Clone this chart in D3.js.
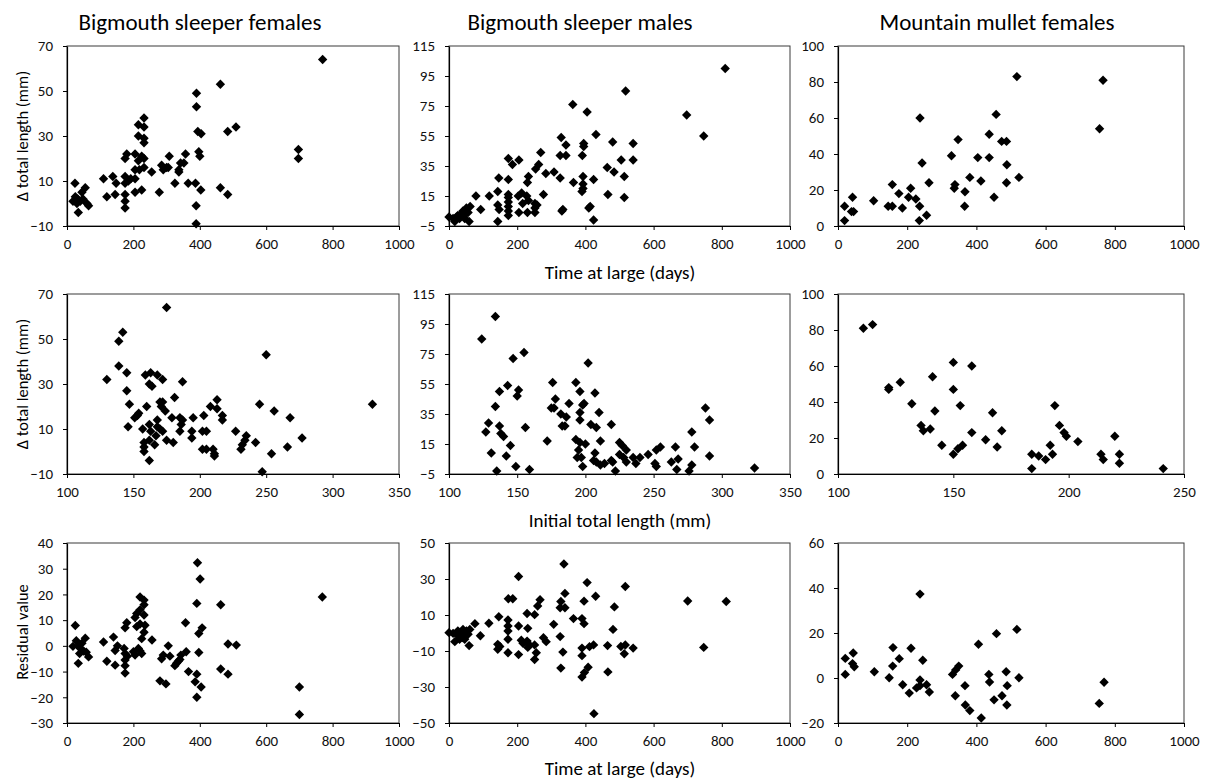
<!DOCTYPE html>
<html>
<head>
<meta charset="utf-8">
<script src="https://cdn.jsdelivr.net/npm/d3@7"></script>
<style>
  html, body { margin: 0; padding: 0; background: #fff; }
  svg { display: block; font-family: Carlito, Calibri, Lato, "Open Sans", sans-serif; }
</style>
</head>
<body>
<svg id="chart" width="1207" height="784"></svg>
<script>
// ---------- data ----------
const columnTitles = ["Bigmouth sleeper females", "Bigmouth sleeper males", "Mountain mullet females"];
const xLabelTime = "Time at large (days)";
const xLabelInit = "Initial total length (mm)";
const yLabelDelta = "\u0394 total length (mm)";
const yLabelResid = "Residual value";

const timeTicks = [0, 200, 400, 600, 800, 1000];
const initTicksBS = [100, 150, 200, 250, 300, 350];
const initTicksMM = [100, 150, 200, 250];
const deltaTicksBSF = [-10, 10, 30, 50, 70];
const deltaTicksBSM = [-5, 15, 35, 55, 75, 95, 115];
const deltaTicksMMF = [0, 20, 40, 60, 80, 100];
const residTicksBSF = [-30, -20, -10, 0, 10, 20, 30, 40];
const residTicksBSM = [-50, -30, -10, 10, 30, 50];
const residTicksMMF = [-20, 0, 20, 40, 60];

// Bigmouth sleeper females: [time at large, delta total length]
const bsfDeltaVsTime = [[770,64],[462,53],[390,49],[390,43],[394,32],[404,31],[484,32],[509,34],[397,23],[400,21],[697,24],[697,20],[387,9],[403,6],[462,7],[484,4],[389,-1],[389,-9],[365,9],[357,22],[352,18],[342,18],[337,15],[337,14],[325,9],[308,21],[300,16],[285,17],[290,15],[305,16],[278,5],[255,14],[232,38],[232,34],[215,35],[232,29],[232,27],[215,30],[232,20],[225,21],[215,19],[232,16],[218,15],[205,22],[205,15],[205,11],[205,5],[225,6],[180,22],[175,20],[175,12],[185,10],[175,9],[175,4],[175,1],[175,-2],[192,11],[138,12],[148,9],[145,4],[110,11],[120,3],[24,9],[18,1],[25,3],[32,2],[40,1],[34,-4],[45,5],[55,7],[48,2],[60,0],[65,-1],[30,0]];
// Bigmouth sleeper males: [time at large, delta total length]
const bsmDeltaVsTime = [[810,100],[518,85],[363,76],[405,71],[697,69],[747,55],[431,56],[329,54],[343,49],[395,50],[395,48],[391,42],[480,51],[540,50],[540,39],[505,39],[484,31],[464,34],[514,28],[514,14],[466,16],[424,26],[393,28],[393,23],[393,20],[390,18],[365,24],[343,42],[326,42],[326,27],[334,6],[331,5],[410,7],[414,8],[424,-1],[308,31],[284,30],[269,44],[263,36],[254,33],[277,16],[233,28],[230,24],[205,39],[186,36],[174,40],[174,26],[146,27],[143,18],[143,9],[147,6],[143,-2],[174,16],[174,14],[174,11],[174,8],[174,5],[174,2],[203,15],[213,17],[216,10],[205,4],[228,15],[233,12],[230,4],[252,10],[252,7],[252,4],[258,9],[118,15],[79,15],[93,6],[0,1],[12,0],[22,1],[17,-2],[31,0],[36,3],[41,5],[51,7],[56,4],[62,8],[46,0],[59,-2],[26,2],[44,2]];
// Mountain mullet females: [time at large, delta total length]
const mmfDeltaVsTime = [[517,83],[766,81],[756,54],[237,60],[457,62],[437,51],[473,47],[487,47],[347,48],[328,39],[404,38],[437,38],[243,35],[488,34],[338,23],[336,21],[381,27],[413,25],[523,27],[487,24],[367,19],[366,11],[451,16],[263,24],[210,21],[204,16],[225,15],[236,11],[256,6],[235,3],[157,23],[176,18],[186,10],[145,11],[157,11],[103,14],[42,16],[19,11],[39,8],[45,8],[19,3]];

// Bigmouth sleeper females: [initial total length, delta total length]
const bsfDeltaVsInit = [[175,64],[142,53],[139,49],[139,38],[130,32],[145,35],[145,27],[147,21],[146,11],[159,34],[163,35],[168,34],[162,30],[164,29],[172,32],[187,31],[160,20],[170,22],[172,22],[171,20],[174,18],[181,24],[153,16],[154,17],[151,15],[157,10],[162,12],[163,9],[168,14],[168,11],[170,10],[172,9],[167,7],[158,4],[158,2],[158,0],[162,5],[166,3],[162,-4],[175,5],[180,4],[179,15],[185,15],[187,14],[186,12],[185,9],[195,15],[194,9],[194,6],[203,16],[202,9],[205,9],[202,1],[205,1],[208,20],[213,23],[213,19],[217,16],[217,14],[210,1],[211,-1],[211,-2],[227,9],[235,7],[234,5],[232,3],[231,1],[242,4],[245,21],[250,43],[256,18],[268,15],[254,-1],[266,2],[277,6],[247,-9],[330,21]];
// Bigmouth sleeper males: [initial total length, delta total length]
const bsmDeltaVsInit = [[134,100],[124,85],[155,76],[147,72],[202,69],[143,54],[137,50],[151,51],[150,47],[134,40],[129,29],[127,23],[137,27],[138,22],[140,20],[145,14],[131,9],[142,7],[149,0],[135,-3],[156,26],[159,-2],[176,56],[178,45],[175,39],[177,39],[182,35],[183,27],[185,27],[186,33],[188,42],[172,17],[193,56],[196,50],[199,42],[198,41],[196,36],[196,31],[207,49],[204,28],[208,26],[210,36],[219,28],[211,17],[193,18],[196,16],[200,15],[194,6],[195,11],[197,6],[198,0],[207,9],[206,4],[208,3],[211,1],[214,2],[219,4],[220,3],[222,-3],[225,16],[227,14],[230,11],[225,8],[228,6],[230,3],[235,6],[237,2],[240,6],[246,8],[251,2],[252,0],[252,11],[255,13],[263,3],[266,13],[268,5],[267,-2],[276,-3],[278,1],[278,23],[280,13],[288,39],[291,31],[291,7],[324,-1]];
// Mountain mullet females: [initial total length, delta total length]
const mmfDeltaVsInit = [[111,81],[115,83],[122,48],[122,47],[127,51],[132,39],[141,54],[142,35],[136,27],[137,24],[140,25],[145,16],[150,62],[150,47],[153,38],[158,60],[158,23],[150,11],[152,14],[154,16],[164,19],[167,34],[169,15],[171,24],[184,11],[184,3],[187,10],[190,8],[192,16],[193,11],[194,38],[196,27],[198,23],[199,21],[204,18],[214,11],[215,8],[220,21],[222,11],[222,6],[241,3]];

// Bigmouth sleeper females: [time at large, residual]
const bsfResidVsTime = [[393,32.3],[401,26],[391,16.5],[463,16],[769,19],[397,4.8],[407,7],[357,9],[397,-2.6],[359,-2.3],[366,-10],[391,-11],[386,-14],[391,-20],[404,-16],[463,-9],[485,-11],[485,0.7],[510,0.3],[700,-16],[700,-26.7],[280,-13.6],[298,-14.8],[285,-5],[290,-3.6],[305,0],[310,-4],[256,2.3],[325,-7.7],[330,-6.8],[340,-5.3],[343,-3.6],[335,-6],[220,19],[232,17.8],[232,16],[220,14],[210,12.6],[232,12],[205,11],[210,7.5],[220,8.5],[235,8],[232,5.3],[225,2.8],[215,-1],[220,-2],[225,-3],[205,-3.6],[200,-2.3],[180,9],[175,7],[172,-1],[175,-3],[182,-4],[175,-5.5],[175,-7.7],[175,-10.6],[140,3.4],[152,0],[145,-1.8],[145,-7.5],[110,1.5],[120,-6],[25,7.9],[18,-0.2],[28,2],[35,0],[40,-1],[34,-6.8],[45,1],[55,3],[50,-2],[58,-2.5],[65,-4.3],[38,-3]];
// Bigmouth sleeper males: [time at large, residual]
const bsmResidVsTime = [[337,38.3],[204,31.4],[405,28],[517,25.8],[430,20.4],[340,22],[328,17.5],[340,14],[326,14],[396,17.7],[485,14.5],[700,17.8],[813,17.5],[365,8],[390,8],[396,5.2],[481,2],[307,4.8],[231,2.6],[251,10.2],[229,10.8],[267,18.5],[260,15],[174,19],[187,19],[146,9],[117,5.4],[76,5.2],[204,3.9],[173,7.2],[173,3.9],[173,1.1],[173,-3.5],[143,-6.3],[143,-9],[149,-7.5],[173,-11],[204,-12],[92,-1.5],[59,-7],[212,-4],[217,-5.7],[229,-4.5],[231,-8],[236,-6.6],[251,-6.6],[256,-11],[251,-14.7],[277,-2.6],[285,-4.8],[326,-2],[334,-10.6],[328,-19.5],[390,-8.4],[390,-12.6],[390,-24.5],[397,-22],[408,-19],[412,-7.6],[424,-6.6],[465,-7],[466,-21.6],[504,-7.5],[517,-6.7],[514,-11.5],[540,-8.4],[747,-8],[425,-44.8],[0,0.2],[12,-0.2],[22,-0.7],[17,-4.8],[29,-1.6],[36,0.2],[41,2],[51,1.2],[61,2],[39,-2.6],[46,-3.5],[56,-0.7],[26,1.2],[31,-3.5],[46,-0.7]];
// Mountain mullet females: [time at large, residual]
const mmfResidVsTime = [[237,37.3],[517,21.6],[458,19.7],[406,15],[159,13.5],[211,13.2],[44,11.1],[21,8.7],[177,8.6],[245,7.9],[42,6.4],[47,5],[158,5.3],[349,5.3],[340,3.6],[331,1.6],[105,2.8],[21,1.6],[486,2.8],[436,1.6],[148,0.1],[523,0.1],[237,-0.9],[438,-1.8],[769,-1.9],[187,-3],[227,-4.4],[237,-3.4],[256,-3],[264,-6.2],[206,-6.7],[367,-3.4],[489,-3.4],[474,-7.9],[339,-7.9],[451,-9.7],[368,-12],[381,-14.5],[488,-12],[414,-17.8],[755,-11.3]];

// ---------- layout ----------
const colX = [[67, 399], [449, 790], [838, 1184]];
const rowY = [[46, 226], [294, 474], [543, 723]];

const panels = [
  {row:0, col:0, data:bsfDeltaVsTime, xDom:[0,1000], xTicks:timeTicks, yDom:[-10,70], yTicks:deltaTicksBSF},
  {row:0, col:1, data:bsmDeltaVsTime, xDom:[0,1000], xTicks:timeTicks, yDom:[-5,115], yTicks:deltaTicksBSM},
  {row:0, col:2, data:mmfDeltaVsTime, xDom:[0,1000], xTicks:timeTicks, yDom:[0,100], yTicks:deltaTicksMMF},
  {row:1, col:0, data:bsfDeltaVsInit, xDom:[100,350], xTicks:initTicksBS, yDom:[-10,70], yTicks:deltaTicksBSF},
  {row:1, col:1, data:bsmDeltaVsInit, xDom:[100,350], xTicks:initTicksBS, yDom:[-5,115], yTicks:deltaTicksBSM},
  {row:1, col:2, data:mmfDeltaVsInit, xDom:[100,250], xTicks:initTicksMM, yDom:[0,100], yTicks:deltaTicksMMF},
  {row:2, col:0, data:bsfResidVsTime, xDom:[0,1000], xTicks:timeTicks, yDom:[-30,40], yTicks:residTicksBSF},
  {row:2, col:1, data:bsmResidVsTime, xDom:[0,1000], xTicks:timeTicks, yDom:[-50,50], yTicks:residTicksBSM},
  {row:2, col:2, data:mmfResidVsTime, xDom:[0,1000], xTicks:timeTicks, yDom:[-20,60], yTicks:residTicksMMF}
];

const svg = d3.select("#chart");
const diamond = d3.symbol().type(d3.symbolSquare).size(44);

panels.forEach(p => {
  const [x0, x1] = colX[p.col];
  const [y0, y1] = rowY[p.row];
  const x = d3.scaleLinear().domain(p.xDom).range([x0, x1]);
  const y = d3.scaleLinear().domain(p.yDom).range([y1, y0]);
  const g = svg.append("g");

  g.append("rect")
    .attr("x", x0).attr("y", y0)
    .attr("width", x1 - x0).attr("height", y1 - y0)
    .attr("fill", "none").attr("stroke", "#3a3a3a").attr("stroke-width", 1);

  const xa = g.append("g").attr("transform", `translate(0,${y1})`)
    .call(d3.axisBottom(x).tickValues(p.xTicks).tickSize(4).tickSizeOuter(0).tickPadding(8).tickFormat(d3.format("d")));
  const ya = g.append("g").attr("transform", `translate(${x0},0)`)
    .call(d3.axisLeft(y).tickValues(p.yTicks).tickSize(4).tickSizeOuter(0).tickPadding(10).tickFormat(d3.format("d")));
  [xa, ya].forEach(a => {
    a.select(".domain").attr("stroke", "#000").attr("stroke-width", 1.2);
    a.selectAll(".tick line").attr("stroke", "#000");
    a.selectAll(".tick text").attr("font-size", 15).attr("fill", "#111")
      .style("font-family", "Carlito, Calibri, Lato, sans-serif");
  });

  g.append("g").selectAll("path").data(p.data).join("path")
    .attr("d", diamond)
    .attr("transform", d => `translate(${x(d[0])},${y(d[1])}) rotate(45)`)
    .attr("fill", "#000");
});

// column titles
const titleCenters = [200, 580, 997];
svg.append("g").selectAll("text").data(columnTitles).join("text")
  .attr("x", (d, i) => titleCenters[i]).attr("y", 30)
  .attr("text-anchor", "middle").attr("font-size", 23).attr("font-weight", 400).attr("fill", "#000")
  .text(d => d);

// x-axis labels under middle column
const xLabels = [[xLabelTime, 279], [xLabelInit, 527], [xLabelTime, 775]];
svg.append("g").selectAll("text").data(xLabels).join("text")
  .attr("x", 620).attr("y", d => d[1])
  .attr("text-anchor", "middle").attr("font-size", 19).attr("fill", "#000")
  .text(d => d[0]);

// y-axis labels left column
const yLabels = [[yLabelDelta, 136], [yLabelDelta, 384], [yLabelResid, 632]];
svg.append("g").selectAll("text").data(yLabels).join("text")
  .attr("transform", d => `translate(28,${d[1]}) rotate(-90)`)
  .attr("text-anchor", "middle").attr("font-size", 16.5).attr("fill", "#000")
  .text(d => d[0]);
</script>
</body>
</html>
